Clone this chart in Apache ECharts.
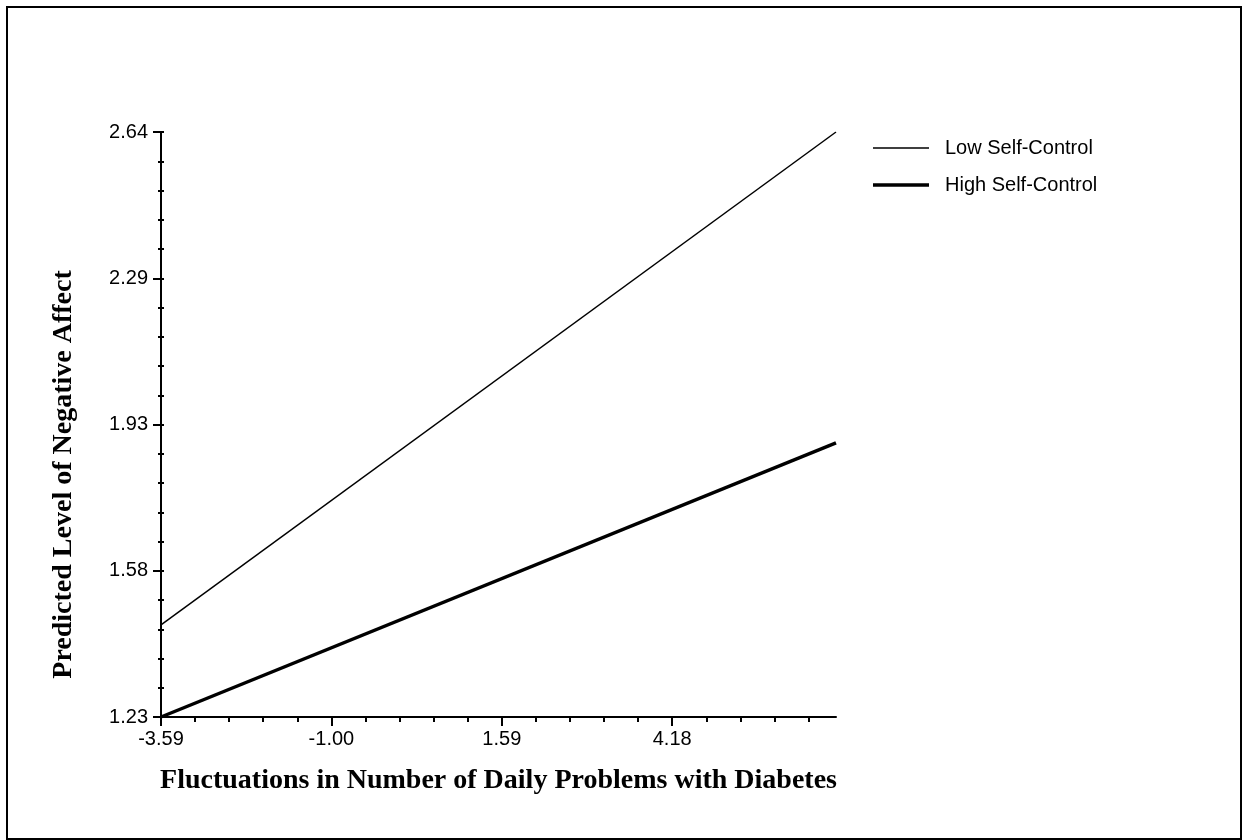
<!DOCTYPE html>
<html>
<head>
<meta charset="utf-8">
<script src="https://cdn.jsdelivr.net/npm/echarts@6/dist/echarts.min.js"></script>
<style>
html,body{margin:0;padding:0;background:#fff;}
#chart{width:1249px;height:840px;}
</style>
</head>
<body>
<div id="chart"></div>
<script>
const xValues = [-3.59, 6.67];
const lowSelfControl = [1.452, 2.64];
const highSelfControl = [1.23, 1.891];
const xTickLabels = [-3.59, -1.00, 1.59, 4.18];
const yTickLabels = [1.23, 1.58, 1.93, 2.29, 2.64];
const seriesNames = ['Low Self-Control', 'High Self-Control'];

const xMin = -3.59, xMax = 6.67, xStep = 2.59;
const yMin = 1.23, yMax = 2.64, yStep = 0.3525;

const xMajor = xTickLabels.slice();
const xMinor = [];
for (let k = 0; xMin + k * xStep / 5 <= xMax + 1e-9; k++) xMinor.push(+(xMin + k * xStep / 5).toFixed(4));
const yMajor = yTickLabels.map((v, i) => +(yMin + i * yStep).toFixed(4));
const yMinor = [];
for (let k = 0; k <= 20; k++) yMinor.push(+(yMin + k * yStep / 5).toFixed(4));

const labelFont = {fontFamily: 'Liberation Sans, Arial, sans-serif', fontSize: 20, color: '#000'};
const titleFont = {fontFamily: 'Liberation Serif, Times New Roman, serif', fontSize: 28, fontWeight: 'bold', color: '#000'};

// legend icons: horizontal bars inside a 56x14 box (thin / thick)
const thinIcon = 'path://M0,0L0,0ZM56,14L56,14ZM0,6.25L56,6.25L56,7.75L0,7.75Z';
const thickIcon = 'path://M0,0L0,0ZM56,14L56,14ZM0,5.25L56,5.25L56,8.75L0,8.75Z';

const chart = echarts.init(document.getElementById('chart'), null, {renderer: 'canvas'});
chart.setOption({
  backgroundColor: '#fff',
  animation: false,
  graphic: [{
    type: 'rect', silent: true,
    shape: {x: 7, y: 7, width: 1234, height: 832},
    style: {fill: 'none', stroke: '#000', lineWidth: 2}
  }],
  grid: {left: 161, right: 413, top: 132, bottom: 123, containLabel: false},
  legend: {
    orient: 'vertical', left: 868, top: 133,
    itemWidth: 56, itemHeight: 14, itemGap: 17,
    itemStyle: {color: '#000', borderWidth: 0},
    textStyle: Object.assign({}, labelFont, {padding: [0, 0, 0, 11]}),
    data: [{name: seriesNames[0], icon: thinIcon}, {name: seriesNames[1], icon: thickIcon}]
  },
  xAxis: [{
    type: 'value', min: xMin, max: xMax, position: 'bottom',
    name: 'Fluctuations in Number of Daily Problems with Diabetes',
    nameLocation: 'middle', nameGap: 50, nameTextStyle: titleFont,
    axisLine: {show: true, onZero: false, lineStyle: {color: '#000', width: 2}},
    axisTick: {show: true, customValues: xMajor, length: 9, lineStyle: {color: '#000', width: 2}},
    axisLabel: {show: true, customValues: xMajor, margin: 12, formatter: v => v.toFixed(2), ...labelFont},
    splitLine: {show: false}
  }, {
    type: 'value', min: xMin, max: xMax, position: 'bottom', offset: 0,
    axisLine: {show: false, onZero: false},
    axisTick: {show: true, customValues: xMinor, length: 5, lineStyle: {color: '#000', width: 2}},
    axisLabel: {show: false},
    splitLine: {show: false}
  }],
  yAxis: [{
    type: 'value', min: yMin, max: yMax, position: 'left',
    name: 'Predicted Level of Negative Affect',
    nameLocation: 'middle', nameGap: 83,
    nameTextStyle: Object.assign({}, titleFont, {padding: [0, 100, 0, 0]}),
    axisLine: {show: true, onZero: false, lineStyle: {color: '#000', width: 2}},
    axisTick: {show: true, customValues: yMajor, length: 8, lineStyle: {color: '#000', width: 2}},
    axisLabel: {show: true, customValues: yMajor, margin: 13,
      formatter: v => { let best = 0; yMajor.forEach((m, i) => { if (Math.abs(m - v) < Math.abs(yMajor[best] - v)) best = i; }); return yTickLabels[best].toFixed(2); },
      ...labelFont},
    splitLine: {show: false}
  }, {
    type: 'value', min: yMin, max: yMax, position: 'left', offset: 0,
    axisLine: {show: false, onZero: false},
    axisTick: {show: true, customValues: yMinor, length: 3, lineStyle: {color: '#000', width: 2}},
    axisLabel: {show: false}, splitLine: {show: false}
  }, {
    type: 'value', min: yMin, max: yMax, position: 'left', offset: 0,
    axisLine: {show: false, onZero: false},
    axisTick: {show: true, inside: true, customValues: yMinor, length: 3, lineStyle: {color: '#000', width: 2}},
    axisLabel: {show: false}, splitLine: {show: false}
  }],
  series: [{
    name: seriesNames[0], type: 'line', symbol: 'none', xAxisIndex: 0, yAxisIndex: 0,
    lineStyle: {color: '#000', width: 1.5}, itemStyle: {color: '#000'},
    data: xValues.map((x, i) => [x, lowSelfControl[i]])
  }, {
    name: seriesNames[1], type: 'line', symbol: 'none', xAxisIndex: 0, yAxisIndex: 0,
    lineStyle: {color: '#000', width: 3.5}, itemStyle: {color: '#000'},
    data: xValues.map((x, i) => [x, highSelfControl[i]])
  }]
});
</script>
</body>
</html>
